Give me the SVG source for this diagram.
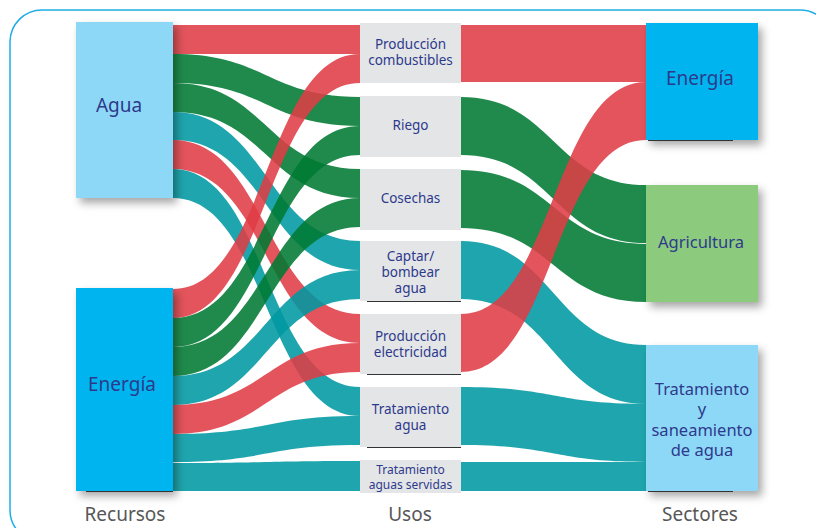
<svg xmlns="http://www.w3.org/2000/svg" width="816" height="528" viewBox="0 0 816 528">
<defs>
<filter id="sh" x="-20%" y="-20%" width="150%" height="150%">
<feDropShadow dx="4" dy="5" stdDeviation="4" flood-color="#000" flood-opacity="0.35"/>
</filter>
<style>
.red{fill:#df3c45;fill-opacity:0.88}
.grn{fill:#007a33;fill-opacity:0.88}
.tea{fill:#0098a2;fill-opacity:0.88}
.use{fill:#e4e5e7}
.t{font-family:"Noto Sans","Open Sans",sans-serif;fill:#2d3a8c;text-anchor:middle}
.tm{font-size:13.5px}
.tb{font-size:19px}
.ts{font-size:16.5px}
.lab{font-family:"Noto Sans","Open Sans",sans-serif;fill:#575757;font-size:19px;text-anchor:middle}
.ul{stroke:#333;stroke-width:1}
</style>
</defs>
<rect width="816" height="528" fill="#fff"/>
<rect x="10" y="10" width="822" height="532" rx="32" fill="none" stroke="#1eaee6" stroke-width="1.5"/>

<g id="connectors">
<path class="red" d="M173 25 C266.5 25 266.5 25 360 25 L360 54 C266.5 54 266.5 54 173 54 Z"/>
<path class="grn" d="M173 54 C266.5 54 266.5 97 360 97 L360 126 C266.5 126 266.5 83 173 83 Z"/>
<path class="grn" d="M173 83 C266.5 83 266.5 169 360 169 L360 198 C266.5 198 266.5 112 173 112 Z"/>
<path class="tea" d="M173 112 C266.5 112 266.5 241 360 241 L360 270 C266.5 270 266.5 140 173 140 Z"/>
<path class="red" d="M173 140 C266.5 140 266.5 314 360 314 L360 343 C266.5 343 266.5 169 173 169 Z"/>
<path class="tea" d="M173 169 C266.5 169 266.5 387 360 387 L360 416 C266.5 416 266.5 198 173 198 Z"/>
<path class="red" d="M173 289 C266.5 289 266.5 54 360 54 L360 83 C266.5 83 266.5 318 173 318 Z"/>
<path class="grn" d="M173 318 C266.5 318 266.5 126 360 126 L360 155 C266.5 155 266.5 347 173 347 Z"/>
<path class="grn" d="M173 347 C266.5 347 266.5 198 360 198 L360 227 C266.5 227 266.5 376 173 376 Z"/>
<path class="tea" d="M173 376 C266.5 376 266.5 270 360 270 L360 299 C266.5 299 266.5 405 173 405 Z"/>
<path class="red" d="M173 405 C266.5 405 266.5 343 360 343 L360 372 C266.5 372 266.5 434 173 434 Z"/>
<path class="tea" d="M173 434 C266.5 434 266.5 416 360 416 L360 445 C266.5 445 266.5 462 173 462 Z"/>
<path class="tea" d="M173 463 C266.5 463 266.5 461 360 461 L360 491 C266.5 491 266.5 491 173 491 Z"/>
<path class="red" d="M461 25 C553.5 25 553.5 25 646 25 L646 82 C553.5 82 553.5 82 461 82 Z"/>
<path class="grn" d="M461 97 C553.5 97 553.5 185 646 185 L646 243 C553.5 243 553.5 155 461 155 Z"/>
<path class="grn" d="M461 170 C553.5 170 553.5 244 646 244 L646 302 C553.5 302 553.5 228 461 228 Z"/>
<path class="tea" d="M461 241 C553.5 241 553.5 345 646 345 L646 404 C553.5 404 553.5 299 461 299 Z"/>
<path class="tea" d="M461 387 C553.5 387 553.5 404 646 404 L646 462 C553.5 462 553.5 445 461 445 Z"/>
<path class="tea" d="M461 462 C553.5 462 553.5 462 646 462 L646 491 C553.5 491 553.5 491 461 491 Z"/>
<path class="red" d="M461 314 C553.5 314 553.5 82 646 82 L646 140 C553.5 140 553.5 372 461 372 Z"/>
</g>

<g id="agua">
<rect x="76" y="22" width="97" height="176" fill="#8ed8f7" filter="url(#sh)"/>
<text class="t tb" x="119" y="112">Agua</text>
</g>
<g id="energia-recurso">
<rect x="76" y="288" width="97" height="203" fill="#00b5ef" filter="url(#sh)"/>
<line class="ul" x1="86" y1="491.5" x2="173" y2="491.5"/>
<text class="t tb" x="122" y="391">Energía</text>
</g>

<g id="produccion-combustibles">
<rect class="use" x="360" y="23" width="101" height="60"/>
<text class="t tm" x="410.5" y="49">Producción</text>
<text class="t tm" x="410.5" y="65">combustibles</text>
</g>
<g id="riego">
<rect class="use" x="360" y="96" width="101" height="61"/>
<text class="t tm" x="410.5" y="130">Riego</text>
</g>
<g id="cosechas">
<rect class="use" x="360" y="169" width="101" height="61"/>
<text class="t tm" x="410.5" y="203">Cosechas</text>
</g>
<g id="captar">
<rect class="use" x="360" y="241" width="101" height="60"/>
<line class="ul" x1="367" y1="301.5" x2="461" y2="301.5"/>
<text class="t tm" x="410.5" y="261">Captar/</text>
<text class="t tm" x="410.5" y="277">bombear</text>
<text class="t tm" x="410.5" y="293">agua</text>
</g>
<g id="produccion-electricidad">
<rect class="use" x="360" y="314" width="101" height="60"/>
<line class="ul" x1="367" y1="374.5" x2="461" y2="374.5"/>
<text class="t tm" x="410.5" y="341">Producción</text>
<text class="t tm" x="410.5" y="357">electricidad</text>
</g>
<g id="tratamiento-agua">
<rect class="use" x="360" y="387" width="101" height="60"/>
<line class="ul" x1="367" y1="447.5" x2="461" y2="447.5"/>
<text class="t tm" x="410.5" y="414">Tratamiento</text>
<text class="t tm" x="410.5" y="430">agua</text>
</g>
<g id="tratamiento-aguas-servidas">
<rect class="use" x="360" y="460" width="101" height="33"/>
<text class="t" font-size="12" x="410.5" y="474">Tratamiento</text>
<text class="t" font-size="12" x="410.5" y="489">aguas servidas</text>
</g>

<g id="energia-sector">
<rect x="646" y="23" width="112" height="117" fill="#00b5ef" filter="url(#sh)"/>
<line class="ul" x1="648" y1="140.5" x2="733" y2="140.5"/>
<text class="t tb" x="700" y="85">Energía</text>
</g>
<g id="agricultura">
<rect x="646" y="185" width="112" height="117" fill="#8cca7d" filter="url(#sh)"/>
<text class="t ts" x="701" y="248">Agricultura</text>
</g>
<g id="tratamiento-saneamiento">
<rect x="646" y="345" width="112" height="146" fill="#8ed8f7" filter="url(#sh)"/>
<line class="ul" x1="648" y1="491.5" x2="733" y2="491.5"/>
<text class="t ts" x="702" y="395">Tratamiento</text>
<text class="t ts" x="702" y="415">y</text>
<text class="t ts" x="702" y="436">saneamiento</text>
<text class="t ts" x="702" y="456">de agua</text>
</g>

<g id="labels">
<text class="lab" x="125" y="521">Recursos</text>
<text class="lab" x="410" y="521">Usos</text>
<text class="lab" x="700" y="521">Sectores</text>
</g>
</svg>
